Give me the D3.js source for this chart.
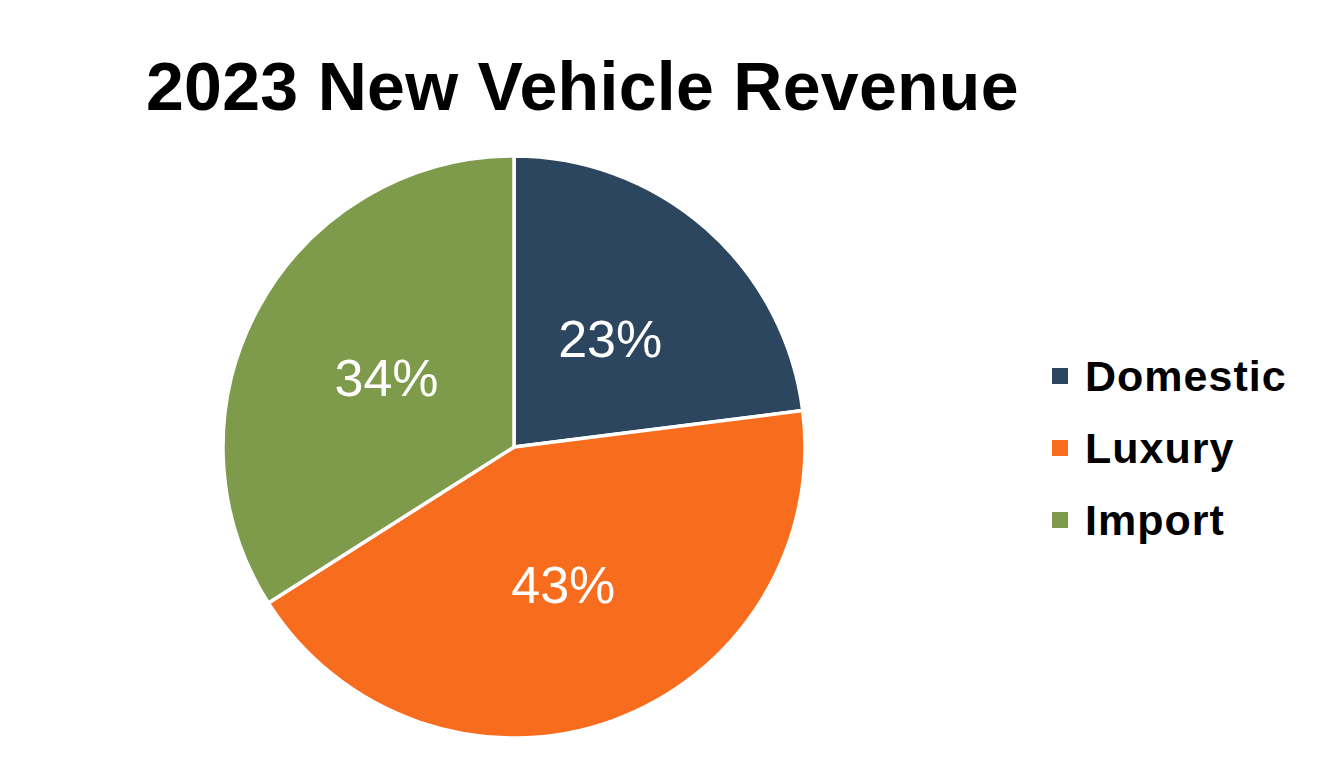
<!DOCTYPE html>
<html><head><meta charset="utf-8">
<script src="https://cdn.jsdelivr.net/npm/d3@7"></script>
<style>html,body{margin:0;padding:0;background:#fff;}svg{display:block;}</style>
</head><body>
<svg id="chart" width="1327" height="783"></svg>
<script>
const categories = ["Domestic", "Luxury", "Import"];
const values = [23, 43, 34];
const labels = ["23%", "43%", "34%"];
const colors = ["#2d4660", "#f86c1d", "#7e9a4b"];
const title = "2023 New Vehicle Revenue";

const svg = d3.select("#chart");
const font = "'Liberation Sans', Arial, Helvetica, sans-serif";

svg.append("text")
  .attr("x", 146).attr("y", 110)
  .attr("font-family", font).attr("font-weight", "bold")
  .attr("font-size", 68).attr("letter-spacing", 0.3).attr("fill", "#000")
  .text(title);

const cx = 514, cy = 447, r = 291;
const pie = d3.pie().sort(null).value(d => d)(values);
const arc = d3.arc().innerRadius(0).outerRadius(r);
const labelArc = d3.arc().innerRadius(r * 0.5).outerRadius(r * 0.5);
const g = svg.append("g").attr("transform", `translate(${cx},${cy})`);
g.selectAll("path").data(pie).enter().append("path")
  .attr("d", arc)
  .attr("fill", (d, i) => colors[i])
  .attr("stroke", "#fff").attr("stroke-width", 3.5).attr("stroke-linejoin", "round");
g.selectAll("text").data(pie).enter().append("text")
  .attr("transform", d => `translate(${labelArc.centroid(d)})`)
  .attr("text-anchor", "middle").attr("dy", "0.36em")
  .attr("font-family", font).attr("font-size", 52).attr("fill", "#fff")
  .text((d, i) => labels[i]);

const legY = d3.scalePoint().domain(categories).range([376, 520]);
const leg = svg.append("g");
const items = leg.selectAll("g").data(categories).enter().append("g")
  .attr("transform", d => `translate(1052,${legY(d)})`);
items.append("rect").attr("x", 0).attr("y", -8).attr("width", 16).attr("height", 16)
  .attr("fill", (d, i) => colors[i]);
items.append("text").attr("x", 33).attr("dy", "0.36em")
  .attr("font-family", font).attr("font-weight", "bold").attr("font-size", 43)
  .attr("letter-spacing", 1)
  .attr("fill", "#000").text(d => d);
</script>
</body></html>
